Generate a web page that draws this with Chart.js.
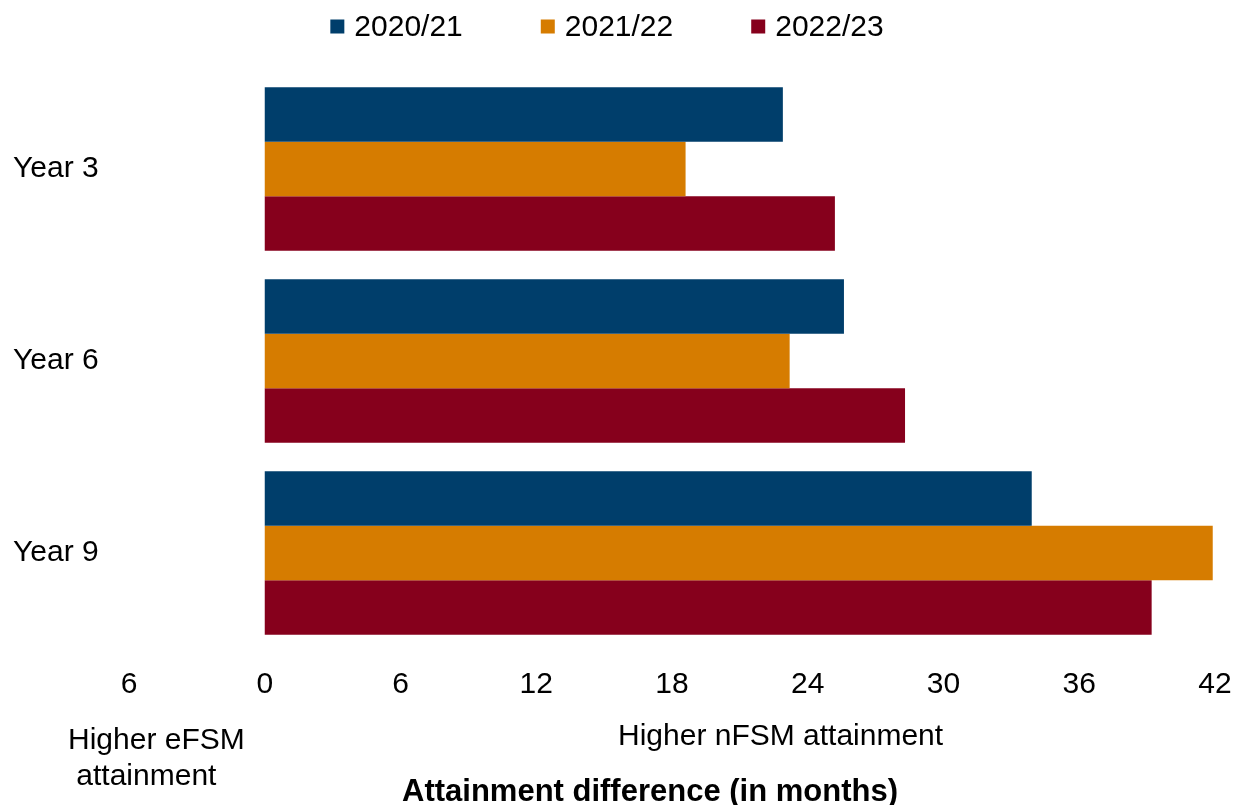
<!DOCTYPE html>
<html>
<head>
<meta charset="utf-8">
<script src="https://cdn.jsdelivr.net/npm/chart.js@4/dist/chart.umd.min.js"></script>
<style>
  html, body { margin: 0; padding: 0; background: #ffffff; }
  #wrap { width: 1243px; height: 805px; }
</style>
</head>
<body>
<div id="wrap"><canvas id="chart" width="1243" height="805"></canvas></div>
<script>
// Year groups and the attainment gap (months) for each school year
const categories = ['Year 3', 'Year 6', 'Year 9'];
const seriesNames = ['2020/21', '2021/22', '2022/23'];
const gap2020 = [22.9, 25.6, 33.9];
const gap2021 = [18.6, 23.2, 41.9];
const gap2022 = [25.2, 28.3, 39.2];
const xTicks = [-6, 0, 6, 12, 18, 24, 30, 36, 42];
const seriesColors = ['#003e6b', '#d67c00', '#86001c'];

const leftNote = ['Higher eFSM', 'attainment'];
const rightNote = 'Higher nFSM attainment';
const axisTitle = 'Attainment difference (in months)';

const FONT = '"Liberation Sans", Arial, sans-serif';

// Legend row and the notes under the axis
const notesPlugin = {
  id: 'notes',
  afterDraw(chart) {
    const ctx = chart.ctx;
    ctx.save();
    ctx.fillStyle = '#000000';
    ctx.textBaseline = 'alphabetic';
    ctx.font = '30px ' + FONT;

    // legend
    const box = 14, gapBoxText = 10, gapItems = 78;
    const items = chart.data.datasets.map(ds => ({
      label: ds.label, color: ds.backgroundColor, w: ctx.measureText(ds.label).width
    }));
    let total = 0;
    items.forEach((it, i) => { total += box + gapBoxText + it.w + (i ? gapItems : 0); });
    let x = 607 - total / 2;
    items.forEach(it => {
      ctx.fillStyle = it.color;
      ctx.fillRect(x, 19.5, box, box);
      ctx.fillStyle = '#000000';
      ctx.textAlign = 'left';
      ctx.fillText(it.label, x + box + gapBoxText, 36);
      x += box + gapBoxText + it.w + gapItems;
    });

    // notes under the axis
    ctx.textAlign = 'left';
    ctx.fillText(leftNote[0], 68, 749);
    ctx.fillText(leftNote[1], 68 + ctx.measureText(' ').width, 785);
    ctx.fillText(rightNote, 618, 745);

    ctx.font = 'bold 31px ' + FONT;
    ctx.fillText(axisTitle, 402, 801);
    ctx.restore();
  }
};

new Chart(document.getElementById('chart'), {
  type: 'bar',
  data: {
    labels: categories,
    datasets: [
      { label: seriesNames[0], data: gap2020, backgroundColor: seriesColors[0] },
      { label: seriesNames[1], data: gap2021, backgroundColor: seriesColors[1] },
      { label: seriesNames[2], data: gap2022, backgroundColor: seriesColors[2] }
    ]
  },
  options: {
    indexAxis: 'y',
    responsive: false,
    animation: false,
    devicePixelRatio: 1,
    layout: { padding: { top: 73, left: 13, right: 28, bottom: 84 } },
    datasets: {
      bar: { categoryPercentage: 0.852, barPercentage: 1.0, borderWidth: 0 }
    },
    plugins: {
      legend: { display: false },
      tooltip: { enabled: false }
    },
    scales: {
      x: {
        type: 'linear',
        min: -6,
        max: 42,
        grid: { display: false, drawTicks: false },
        border: { display: false },
        afterBuildTicks: scale => { scale.ticks = xTicks.map(v => ({ value: v })); },
        // the "42" label fits inside the layout padding on the right
        afterFit: scale => { scale.paddingRight = 0; },
        ticks: {
          padding: 18,
          color: '#000000',
          font: { family: FONT, size: 30 },
          maxRotation: 0,
          autoSkip: false,
          callback: v => String(Math.abs(v))
        }
      },
      y: {
        grid: { display: false, drawTicks: false },
        border: { display: false },
        afterFit: scale => { scale.width = 116; },
        ticks: {
          crossAlign: 'far',
          color: '#000000',
          font: { family: FONT, size: 30 }
        }
      }
    }
  },
  plugins: [notesPlugin]
});
</script>
</body>
</html>
